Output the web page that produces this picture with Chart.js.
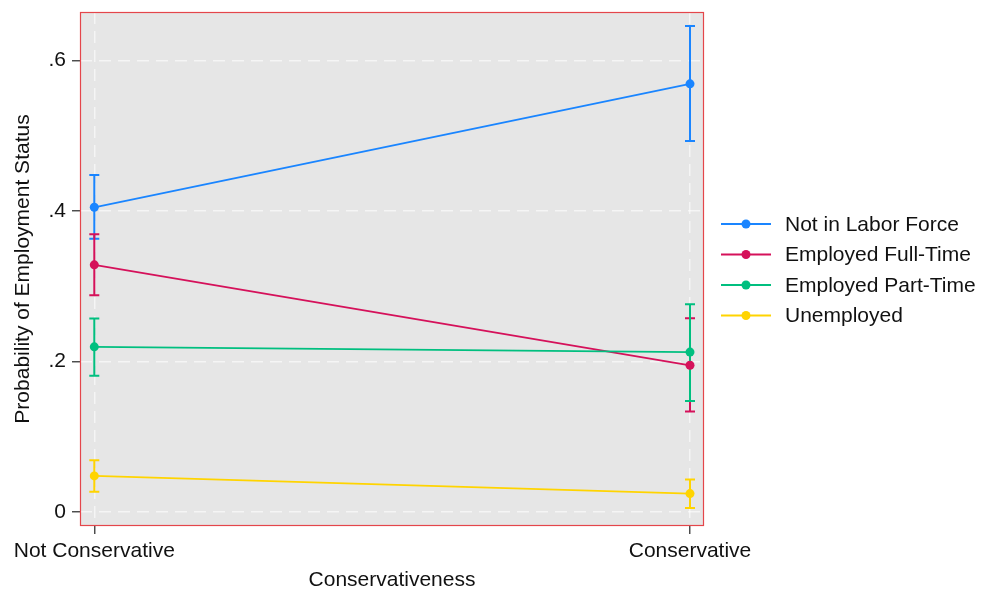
<!DOCTYPE html>
<html>
<head>
<meta charset="utf-8">
<script src="https://cdn.jsdelivr.net/npm/chart.js@4"></script>
<style>
  html, body { margin: 0; padding: 0; background: #ffffff; }
  #wrap { width: 985px; height: 593px; }
</style>
</head>
<body>
<div id="wrap"><canvas id="c" width="985" height="593"></canvas></div>
<script>
// Predicted probabilities with 95% confidence intervals
const groups = ['Not Conservative', 'Conservative'];
const seriesNames = ['Not in Labor Force', 'Employed Full-Time', 'Employed Part-Time', 'Unemployed'];

const notInLaborForce     = [0.405, 0.569];
const notInLaborForceLow  = [0.363, 0.493];
const notInLaborForceHigh = [0.448, 0.646];

const fullTime     = [0.3285, 0.195];
const fullTimeLow  = [0.288, 0.1335];
const fullTimeHigh = [0.369, 0.2575];

const partTime     = [0.2195, 0.2125];
const partTimeLow  = [0.181, 0.1475];
const partTimeHigh = [0.257, 0.276];

const unemployed     = [0.048, 0.0245];
const unemployedLow  = [0.027, 0.0053];
const unemployedHigh = [0.0688, 0.0431];

const yTicks = [0, 0.2, 0.4, 0.6];
const yTickLabels = ['0', '.2', '.4', '.6'];

const colors = ['#1a85ff', '#d5115a', '#00bf7f', '#ffd400'];
const FONT = '"Liberation Sans", Arial, sans-serif';

const seriesValues = [notInLaborForce, fullTime, partTime, unemployed];
const seriesLow = [notInLaborForceLow, fullTimeLow, partTimeLow, unemployedLow];
const seriesHigh = [notInLaborForceHigh, fullTimeHigh, partTimeHigh, unemployedHigh];

const datasets = seriesNames.map((name, k) => ({
  label: name,
  data: seriesValues[k].map((v, i) => ({ x: i, y: v })),
  low: seriesLow[k],
  high: seriesHigh[k],
  borderColor: colors[k],
  backgroundColor: colors[k],
  pointBackgroundColor: colors[k],
  pointBorderColor: colors[k],
  pointRadius: 4.5,
  pointBorderWidth: 0,
  borderWidth: 1.8,
  tension: 0,
  order: seriesNames.length - k
}));

// Shaded plot region and its outline
const plotBackground = {
  id: 'plotBackground',
  beforeDraw(chart) {
    const { ctx, chartArea: a } = chart;
    ctx.save();
    ctx.fillStyle = '#e6e6e6';
    ctx.fillRect(a.left, a.top, a.right - a.left, a.bottom - a.top);
    ctx.restore();
  },
  afterDraw(chart) {
    const { ctx, chartArea: a } = chart;
    ctx.save();
    ctx.strokeStyle = '#e4464b';
    ctx.lineWidth = 1.2;
    ctx.strokeRect(a.left + 0.5, a.top + 0.5, a.right - a.left - 1, a.bottom - a.top - 1);
    ctx.restore();
  }
};

// Capped confidence interval spikes
const errorBars = {
  id: 'errorBars',
  beforeDatasetsDraw(chart) {
    const { ctx, scales: { x, y } } = chart;
    ctx.save();
    chart.data.datasets.forEach(ds => {
      ds.low.forEach((lo, i) => {
        const px = x.getPixelForValue(i);
        const y1 = y.getPixelForValue(lo);
        const y2 = y.getPixelForValue(ds.high[i]);
        ctx.strokeStyle = ds.borderColor;
        ctx.lineWidth = 2;
        ctx.beginPath();
        ctx.moveTo(px, y1); ctx.lineTo(px, y2);
        ctx.moveTo(px - 5, y1); ctx.lineTo(px + 5, y1);
        ctx.moveTo(px - 5, y2); ctx.lineTo(px + 5, y2);
        ctx.stroke();
      });
    });
    ctx.restore();
  }
};

// Legend on the right: line with a centred marker, then the label
const sideLegend = {
  id: 'sideLegend',
  afterDraw(chart) {
    const { ctx } = chart;
    const x0 = 721, x1 = 771, xm = 746, xt = 785;
    const rowY = [224, 254.5, 285, 315.5];
    ctx.save();
    chart.data.datasets.forEach((ds, k) => {
      const yy = rowY[k];
      ctx.strokeStyle = ds.borderColor;
      ctx.lineWidth = 1.8;
      ctx.beginPath(); ctx.moveTo(x0, yy); ctx.lineTo(x1, yy); ctx.stroke();
      ctx.fillStyle = ds.borderColor;
      ctx.beginPath(); ctx.arc(xm, yy, 4.5, 0, Math.PI * 2); ctx.fill();
      ctx.fillStyle = '#111111';
      ctx.font = '21px ' + FONT;
      ctx.textBaseline = 'middle';
      ctx.textAlign = 'left';
      ctx.fillText(ds.label, xt, yy + 1);
    });
    ctx.restore();
  }
};

const gridStyle = {
  color: 'rgba(255,255,255,0.6)',
  lineWidth: 1.5,
  tickLength: 8,
  tickColor: '#444444',
  tickWidth: 1.4
};

new Chart(document.getElementById('c'), {
  type: 'line',
  data: { datasets },
  plugins: [plotBackground, errorBars, sideLegend],
  options: {
    responsive: false,
    animation: false,
    devicePixelRatio: 1,
    layout: { padding: { top: 12, right: 281, left: 0, bottom: 0 } },
    plugins: { legend: { display: false }, tooltip: { enabled: false } },
    scales: {
      x: {
        type: 'linear',
        min: -0.024,
        max: 1.0235,
        afterBuildTicks: s => { s.ticks = groups.map((g, i) => ({ value: i })); },
        afterFit: s => { s.height = 67; s.paddingLeft = 0; s.paddingRight = 0; },
        ticks: {
          autoSkip: false,
          maxRotation: 0,
          padding: 5,
          color: '#111111',
          font: { family: FONT, size: 21 },
          callback: v => groups[v]
        },
        grid: gridStyle,
        border: { display: false, dash: [12, 7] },
        title: {
          display: true,
          text: 'Conservativeness',
          color: '#111111',
          font: { family: FONT, size: 21 },
          padding: { top: 0, bottom: 0 }
        }
      },
      y: {
        type: 'linear',
        min: -0.0186,
        max: 0.6645,
        afterBuildTicks: s => { s.ticks = yTicks.map(v => ({ value: v })); },
        afterFit: s => { s.width = 80; s.paddingTop = 0; s.paddingBottom = 0; },
        ticks: {
          padding: 6,
          color: '#111111',
          font: { family: FONT, size: 21 },
          callback: v => yTickLabels[yTicks.indexOf(v)]
        },
        grid: gridStyle,
        border: { display: false, dash: [12, 7] },
        title: {
          display: true,
          text: 'Probability of Employment Status',
          color: '#111111',
          font: { family: FONT, size: 21 },
          padding: { top: 11, bottom: 0 }
        }
      }
    }
  }
});
</script>
</body>
</html>
